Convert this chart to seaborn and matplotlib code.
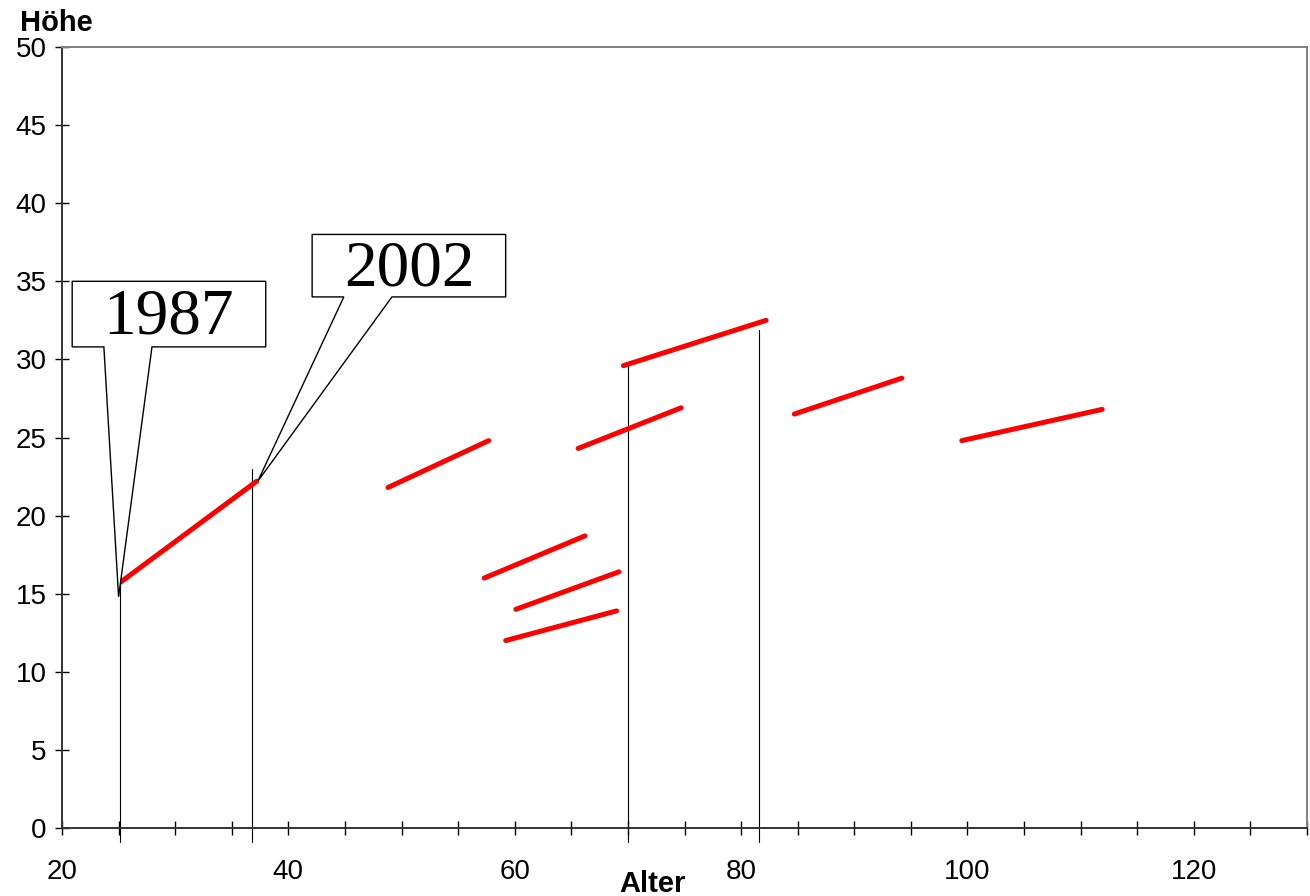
import matplotlib
matplotlib.use("Agg")
import matplotlib.pyplot as plt
from matplotlib.patches import Polygon
import pandas as pd
import seaborn as sns

# Messstrecken: Alter (Start, Ende) und Höhe (Start, Ende)
alter_start = [25.1, 48.8, 57.3, 60.1, 59.2, 65.6, 69.6, 84.7, 99.5]
alter_ende = [37.2, 57.7, 66.2, 69.2, 69.0, 74.7, 82.2, 94.2, 111.9]
hoehe_start = [15.7, 21.8, 16.0, 14.0, 12.0, 24.3, 29.6, 26.5, 24.8]
hoehe_ende = [22.2, 24.8, 18.7, 16.4, 13.9, 26.9, 32.5, 28.8, 26.8]

# senkrechte Hilfslinien (Alter, obere Höhe)
hilfs_x = [25.1, 36.8, 70.0, 81.6]
hilfs_top = [15.7, 23.0, 29.6, 31.9]

# Beschriftungen: Text, Box (x0, x1, y_unten, y_oben), Keil (links, rechts), Spitze
callouts = [
    ("1987", (20.9, 38.0, 30.8, 35.0), (23.7, 27.95), (25.0, 14.8)),
    ("2002", (42.1, 59.2, 34.0, 38.0), (44.9, 49.15), (37.3, 22.2)),
]

x_ticks = list(range(20, 131, 5))
x_labels = [str(v) if v % 20 == 0 and v <= 120 else "" for v in x_ticks]
y_ticks = list(range(0, 51, 5))

rows = []
for i in range(len(alter_start)):
    rows.append({"seg": i, "Alter": alter_start[i], "Höhe": hoehe_start[i]})
    rows.append({"seg": i, "Alter": alter_ende[i], "Höhe": hoehe_ende[i]})
df = pd.DataFrame(rows)

sns.set_style("white")
plt.rcParams["font.family"] = ["Liberation Sans", "DejaVu Sans"]
plt.rcParams["text.color"] = "black"
plt.rcParams["xtick.color"] = "black"
plt.rcParams["ytick.color"] = "black"

fig = plt.figure(figsize=(13.1, 8.96), dpi=100)
ax = fig.add_axes([62 / 1310, 1 - 828 / 896, 1245 / 1310, 781 / 896])

for x, top in zip(hilfs_x, hilfs_top):
    ax.plot([x, x], [-0.9, top], color="black", lw=0.8, clip_on=False, zorder=2)

sns.lineplot(data=df, x="Alter", y="Höhe", units="seg", estimator=None,
             color="#ff0000", lw=3.6, ax=ax, zorder=3)

for text, (x0, x1, yb, yt), (wl, wr), (tx, ty) in callouts:
    poly = Polygon([(x0, yt), (x1, yt), (x1, yb), (wr, yb), (tx, ty), (wl, yb), (x0, yb)],
                   closed=True, facecolor="white", edgecolor="black", lw=1.0, zorder=4)
    ax.add_patch(poly)
    ax.text((x0 + x1) / 2, (yb + yt) / 2 - 0.25, text, ha="center", va="center",
            fontsize=47, family="Liberation Serif", color="black", zorder=5)

ax.set_xlim(20, 130)
ax.set_ylim(0, 50)
ax.set_xticks(x_ticks)
ax.set_xticklabels(x_labels)
ax.set_yticks(y_ticks)
ax.tick_params(axis="x", bottom=True, direction="inout", length=10, width=1,
               labelsize=20, pad=17, labelcolor="black")
ax.tick_params(axis="y", left=True, direction="inout", length=10, width=1,
               labelsize=20, pad=6, labelcolor="black")
ax.set_xlabel("")
ax.set_ylabel("")

for side in ["left", "bottom"]:
    ax.spines[side].set_color("#333333")
    ax.spines[side].set_linewidth(1.4)
for side in ["top", "right"]:
    ax.spines[side].set_color("#808080")
    ax.spines[side].set_linewidth(1.4)

fig.text(20 / 1310, 1 - 31 / 896, "Höhe", fontsize=21, fontweight="bold")
fig.text(652 / 1310, 1 - 892 / 896, "Alter", fontsize=21, fontweight="bold", ha="center")

fig.savefig("out.png", dpi=100)
